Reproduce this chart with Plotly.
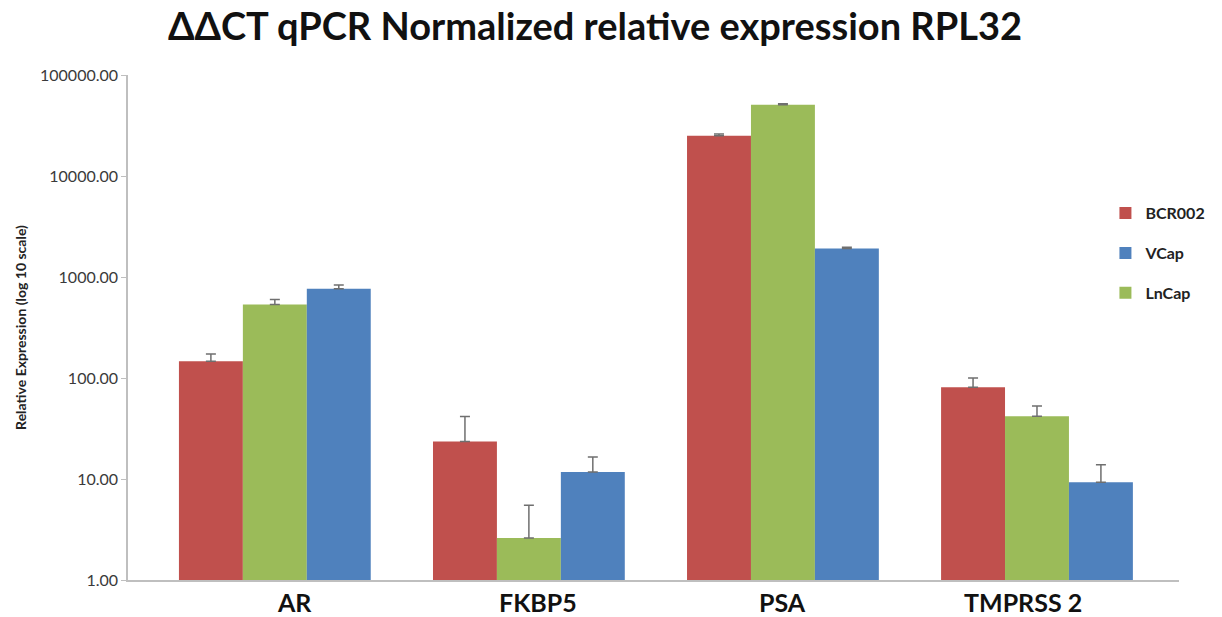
import plotly.graph_objects as go

# Genes on the x axis
genes = ["AR", "FKBP5", "PSA", "TMPRSS 2"]

# Relative expression (ΔΔCT, normalized to RPL32) per cell line
bcr002 = [146.5, 23.5, 25000.0, 81.0]
lncap = [535.0, 2.6, 50700.0, 41.7]
vcap = [766.0, 11.7, 1910.0, 9.3]

# Upper error (standard deviation) per cell line
bcr002_err = [26.0, 18.0, 1000.0, 19.0]
lncap_err = [65.0, 2.9, 1200.0, 11.0]
vcap_err = [65.0, 4.8, 60.0, 4.5]

# Log axis tick labels
tick_vals = [1, 10, 100, 1000, 10000, 100000]
tick_text = ["1.00", "10.00", "100.00", "1000.00", "10000.00", "100000.00"]

series = [
    ("BCR002", bcr002, bcr002_err, "#C0504D", 1),
    ("LnCap", lncap, lncap_err, "#9BBB59", 3),
    ("VCap", vcap, vcap_err, "#4F81BD", 2),
]

fig = go.Figure()
for name, vals, errs, color, rank in series:
    fig.add_trace(go.Bar(
        x=genes, y=vals, name=name,
        marker=dict(color=color, line=dict(width=0)),
        legendrank=rank, legendgroup=name,
        error_y=dict(type="data", array=errs, arrayminus=[0] * len(errs),
                     symmetric=False, color="#6f6f6f", thickness=1.5, width=5),
    ))

# Category labels drawn as free text under each group
label_shift = [20, 9, 0, -14]
for gene, dx in zip(genes, label_shift):
    fig.add_annotation(
        x=gene, y=0, xref="x", yref="paper", yanchor="middle",
        yshift=-22, xshift=dx, showarrow=False, borderpad=0,
        text=f"<b>{gene}</b>",
        font=dict(family="Lato", size=25, color="#111111"),
    )

fig.update_layout(
    width=1222, height=617,
    margin=dict(l=128, r=35, t=75, b=37),
    paper_bgcolor="white", plot_bgcolor="white",
    barmode="group", bargap=0.245, bargroupgap=0,
    title=dict(text="<b>ΔΔCT qPCR Normalized relative expression RPL32</b>",
               x=595 / 1222, xanchor="center", y=0.956, yanchor="middle",
               font=dict(family="Lato", size=38, color="#111111")),
    legend=dict(x=0.93, xanchor="left", y=0.76, yanchor="top",
                font=dict(family="Lato", size=16, color="#222222", weight="bold"),
                tracegroupgap=16, itemwidth=30, bgcolor="rgba(0,0,0,0)"),
    showlegend=True,
)

fig.update_xaxes(
    range=[-0.578, 3.559], automargin=False,
    showline=True, linecolor="#bfbfbf", linewidth=1.5,
    showgrid=False, ticks="", showticklabels=False,
)

fig.update_yaxes(
    type="log", range=[0, 5], automargin=False,
    showline=True, linecolor="#bfbfbf", linewidth=1.5,
    showgrid=False, ticks="outside", ticklen=5, tickcolor="#bfbfbf",
    tickvals=tick_vals, ticktext=tick_text,
    tickfont=dict(family="Lato", size=16, color="#3a3a3a"),
    title=dict(text="<b>Relative Expression (log 10 scale)</b>",
               font=dict(family="Lato", size=14, color="#222222"), standoff=10),
)

fig.write_html("out.html")
